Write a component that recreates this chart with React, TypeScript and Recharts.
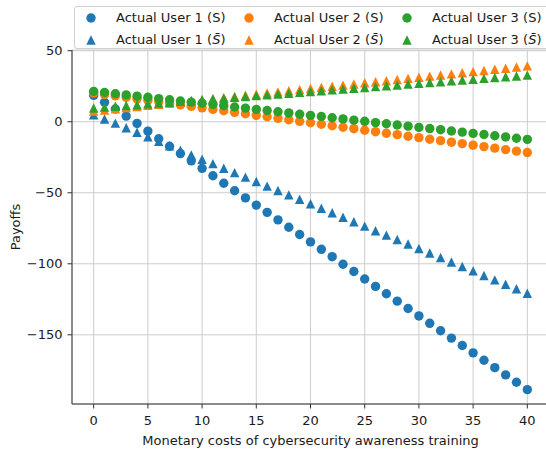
import { CartesianGrid, Scatter, ScatterChart, XAxis, YAxis } from 'recharts'

const costs = [
  0, 1, 2, 3, 4, 5, 6, 7, 8, 9, 10, 11, 12, 13, 14, 15, 16, 17, 18, 19, 20,
  21, 22, 23, 24, 25, 26, 27, 28, 29, 30, 31, 32, 33, 34, 35, 36, 37, 38, 39, 40
]

const user1S = [
  18.6, 13.7, 9.0, 4.0, -1.2, -6.6, -12.0, -17.3, -22.4, -27.5, -32.8, -38.0,
  -43.3, -48.6, -53.6, -58.7, -63.8, -69.1, -74.3, -79.4, -84.6, -89.8, -95.0,
  -100.3, -105.4, -110.7, -115.9, -121.1, -126.3, -131.5, -136.7, -141.9,
  -147.1, -152.3, -157.5, -162.7, -167.9, -173.1, -178.2, -183.4, -188.6
]
const user1SBar = [
  4.9, 1.9, -1.0, -4.2, -7.4, -10.6, -13.8, -16.9, -20.1, -23.3, -26.4, -29.5,
  -32.7, -35.8, -39.0, -42.1, -45.3, -48.4, -51.5, -54.6, -57.7, -60.9, -64.1,
  -67.2, -70.4, -73.5, -76.7, -79.8, -82.9, -86.1, -89.2, -92.4, -95.6, -98.7,
  -101.9, -105.0, -108.2, -111.3, -114.4, -117.6, -120.7
]
const user2S = [
  20.3, 19.2, 18.2, 17.1, 16.1, 15.0, 14.0, 12.9, 11.9, 10.8, 9.8, 8.7, 7.7,
  6.6, 5.6, 4.5, 3.5, 2.4, 1.4, 0.3, -0.7, -1.8, -2.8, -3.9, -4.9, -6.0, -7.0,
  -8.1, -9.1, -10.2, -11.2, -12.3, -13.3, -14.4, -15.4, -16.5, -17.5, -18.6,
  -19.6, -20.7, -21.7
]
const user2SBar = [
  7.5, 8.3, 9.1, 9.9, 10.7, 11.5, 12.3, 13.1, 13.9, 14.7, 15.5, 16.2, 17.0,
  17.8, 18.6, 19.4, 20.2, 21.0, 21.8, 22.6, 23.4, 24.2, 25.0, 25.8, 26.6, 27.4,
  28.2, 28.9, 29.7, 30.5, 31.3, 32.1, 32.9, 33.7, 34.5, 35.3, 36.1, 36.9, 37.7,
  38.5, 39.3
]
const user3S = [
  21.4, 20.6, 19.7, 18.9, 18.0, 17.2, 16.3, 15.5, 14.6, 13.8, 13.0, 12.1, 11.3,
  10.4, 9.6, 8.7, 7.9, 7.0, 6.2, 5.3, 4.5, 3.7, 2.8, 2.0, 1.1, 0.3, -0.6, -1.4,
  -2.3, -3.1, -4.0, -4.8, -5.6, -6.5, -7.3, -8.2, -9.0, -9.9, -10.7, -11.6,
  -12.4
]
const user3SBar = [
  9.7, 10.3, 10.9, 11.4, 12.0, 12.6, 13.2, 13.7, 14.3, 14.9, 15.5, 16.1, 16.6,
  17.2, 17.8, 18.4, 18.9, 19.5, 20.1, 20.7, 21.3, 21.8, 22.4, 23.0, 23.6, 24.1,
  24.7, 25.3, 25.9, 26.5, 27.0, 27.6, 28.2, 28.8, 29.3, 29.9, 30.5, 31.1, 31.7,
  32.2, 32.8
]

const xTicks = [0, 5, 10, 15, 20, 25, 30, 35, 40]
const yTicks = [-150, -100, -50, 0, 50]

const BLUE = '#1f77b4'
const ORANGE = '#ff7f0e'
const GREEN = '#2ca02c'
const FONT = "'DejaVu Sans', sans-serif"
const R = 4.7

const toPoints = (vals: number[]) => costs.map((c, i) => ({ x: c, y: vals[i] }))

const Dot = ({ cx, cy, fill }: any) => <circle cx={cx} cy={cy} r={R} fill={fill} />
const Tri = ({ cx, cy, fill }: any) => (
  <path
    d={`M${cx},${cy - R} L${cx + R},${cy + R} L${cx - R},${cy + R} Z`}
    fill={fill}
  />
)

const series = [
  { name: 'Actual User 1', bar: false, color: BLUE, vals: user1S },
  { name: 'Actual User 1', bar: true, color: BLUE, vals: user1SBar },
  { name: 'Actual User 2', bar: false, color: ORANGE, vals: user2S },
  { name: 'Actual User 2', bar: true, color: ORANGE, vals: user2SBar },
  { name: 'Actual User 3', bar: false, color: GREEN, vals: user3S },
  { name: 'Actual User 3', bar: true, color: GREEN, vals: user3SBar }
]

const minus = (v: number) => String(v).replace('-', '\u2212')

// axis titles drawn on top, fixed spots matching the reference
const Titles = () => (
  <svg
    width={546}
    height={452}
    style={{ position: 'absolute', left: 0, top: 0, pointerEvents: 'none' }}
    fontFamily={FONT}
    fontSize={13}
    fill='#1a1a1a'
  >
    <text x={310.5} y={440} textAnchor='middle' dominantBaseline='central'>
      Monetary costs of cybersecurity awareness training
    </text>
    <text
      x={0}
      y={0}
      transform='translate(15 227) rotate(-90)'
      textAnchor='middle'
      dominantBaseline='central'
    >
      Payoffs
    </text>
  </svg>
)

const Legend = () => (
  <div
    style={{
      position: 'absolute',
      left: 74,
      top: 6,
      width: 490,
      height: 43,
      border: '1px solid #d0d0d0',
      borderRadius: 3,
      background: 'rgba(255,255,255,0.8)',
      fontFamily: FONT,
      fontSize: 13,
      color: '#1a1a1a',
      boxSizing: 'border-box'
    }}
  >
    {series.map((s, i) => {
      const col = Math.floor(i / 2)
      const row = i % 2
      const mx = 90.7 - 74 + col * 158
      const my = (row ? 40 : 17.7) - 6
      return (
        <div key={i}>
          <svg
            width={12}
            height={12}
            style={{ position: 'absolute', left: mx - 7, top: my - 7 }}
          >
            {s.bar ? <Tri cx={6} cy={6} fill={s.color} /> : <Dot cx={6} cy={6} fill={s.color} />}
          </svg>
          <span
            style={{
              position: 'absolute',
              left: 116 - 75 + col * 158,
              top: my - 9,
              lineHeight: '16px',
              whiteSpace: 'nowrap'
            }}
          >
            {s.name} ({s.bar ? <i>S̄</i> : 'S'})
          </span>
        </div>
      )
    })}
  </div>
)

export default function App() {
  return (
    <div
      style={{
        position: 'absolute',
        left: 0,
        top: 0,
        width: 546,
        height: 452,
        overflow: 'hidden',
        background: '#fff'
      }}
    >
      <ScatterChart
        width={549}
        height={452}
        margin={{ top: 50, right: 0, bottom: 0, left: 0 }}
      >
        <CartesianGrid stroke='#cccccc' strokeWidth={1} />
        <XAxis
          type='number'
          dataKey='x'
          domain={[-2, 42]}
          ticks={xTicks}
          allowDataOverflow
          height={48}
          tickSize={4.5}
          tickMargin={7}
          stroke='#333'
          tick={{ fill: '#1a1a1a', fontSize: 13, fontFamily: FONT }}
        />
        <YAxis
          type='number'
          dataKey='y'
          domain={[-198.7, 50.5]}
          ticks={yTicks}
          allowDataOverflow
          width={72}
          tickSize={4.5}
          tickMargin={5}
          stroke='#333'
          tickFormatter={minus}
          tick={{ fill: '#1a1a1a', fontSize: 13, fontFamily: FONT }}
        />
        {series.map((s, i) => (
          <Scatter
            key={i}
            data={toPoints(s.vals)}
            fill={s.color}
            shape={s.bar ? <Tri /> : <Dot />}
            isAnimationActive={false}
          />
        ))}
      </ScatterChart>
      <Titles />
      <Legend />
    </div>
  )
}
